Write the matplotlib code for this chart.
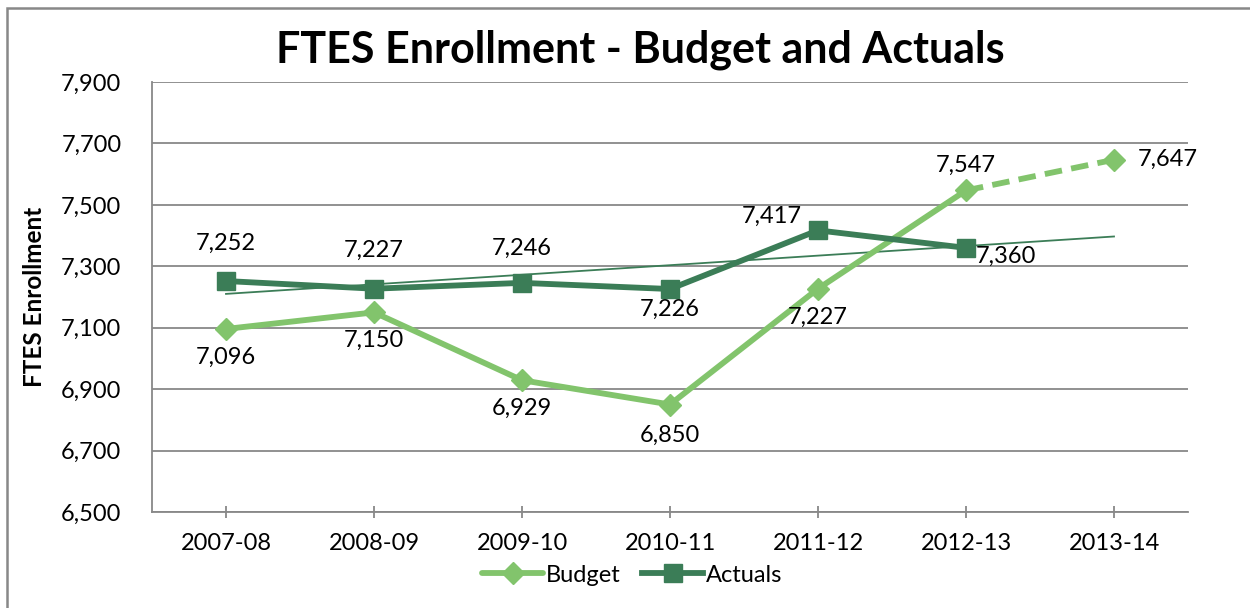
import numpy as np
import matplotlib.pyplot as plt
from matplotlib.patches import Rectangle

years = ["2007-08", "2008-09", "2009-10", "2010-11", "2011-12", "2012-13", "2013-14"]
budget = [7096, 7150, 6929, 6850, 7227, 7547, 7647]
actuals = [7252, 7227, 7246, 7226, 7417, 7360]

# label offsets in pixels (dx, dy)
budget_off = [(0, -28), (0, -28), (0, -28), (0, -31), (0, -29), (0, 25), (54, 0)]
actual_off = [(0, 38), (0, 38), (0, 35), (0, -20), (-46, 14), (40, -8)]

c_budget = "#82C46C"
c_actual = "#3B7D57"

plt.rcParams['font.family'] = ['Lato', 'DejaVu Sans']

fig = plt.figure(figsize=(12.5, 6.08), dpi=100)
ax = fig.add_axes([152 / 1250, 1 - 512 / 608, 1036 / 1250, 430 / 608])

x = np.arange(len(years))
xa = x[:len(actuals)]

# trendline on actuals
k, b = np.polyfit(xa, actuals, 1)
ax.plot(x, k * x + b, color=c_actual, lw=1.3, zorder=2)

ax.plot(x[:6], budget[:6], color=c_budget, lw=4.2, marker="D", ms=11,
        solid_capstyle="round", zorder=3, label="Budget")
ax.plot(x[5:], budget[5:], color=c_budget, lw=4.2, ls=(0, (3, 1.6)),
        marker="D", ms=11, markevery=[1], zorder=3)
ax.plot(xa, actuals, color=c_actual, lw=4.2, marker="s", ms=13.5,
        zorder=4, label="Actuals")

for i, v in enumerate(budget):
    ax.annotate(f"{v:,}", (x[i], v), xytext=budget_off[i], textcoords="offset pixels",
                ha="center", va="center", fontsize=17)
for i, v in enumerate(actuals):
    ax.annotate(f"{v:,}", (x[i], v), xytext=actual_off[i], textcoords="offset pixels",
                ha="center", va="center", fontsize=17)

ax.set_xlim(-0.5, 6.5)
ax.set_ylim(6500, 7900)
ax.set_yticks(range(6500, 7901, 200))
ax.set_yticklabels([f"{t:,}" for t in range(6500, 7901, 200)])
ax.set_xticks(x)
ax.set_xticklabels(years)
ax.tick_params(axis="y", length=0, labelsize=17, pad=22)
ax.tick_params(axis="x", direction="inout", length=8, width=1.3, color="#888888",
               labelsize=17, pad=11)
ax.grid(axis="y", color="#888888", lw=1.3)
ax.set_axisbelow(True)
for s in ["top", "right"]:
    ax.spines[s].set_visible(False)
for s in ["left", "bottom"]:
    ax.spines[s].set_color("#888888")
    ax.spines[s].set_linewidth(1.3)

ax.set_ylabel("FTES Enrollment", fontsize=17.5, fontweight="bold")
ax.yaxis.set_label_coords(-106 / 1036, 0.5)
fig.text(0.5 + 15 / 1250, 1 - 50 / 608, "FTES Enrollment - Budget and Actuals",
         ha="center", va="center", fontsize=31, fontweight="bold")

ax.legend(loc="center", bbox_to_anchor=(0.5 + (632 - 670) / 1036, (512 - 575) / 430),
          ncol=2, frameon=False, fontsize=17, handlelength=2.6, columnspacing=0.9,
          handletextpad=0.1)

fig.add_artist(Rectangle((7 / 1250, -0.1), 1.1, 1.1 - 8 / 608, transform=fig.transFigure,
                         fill=False, ec="#888888", lw=1.8))

fig.savefig("out.png", dpi=100)
